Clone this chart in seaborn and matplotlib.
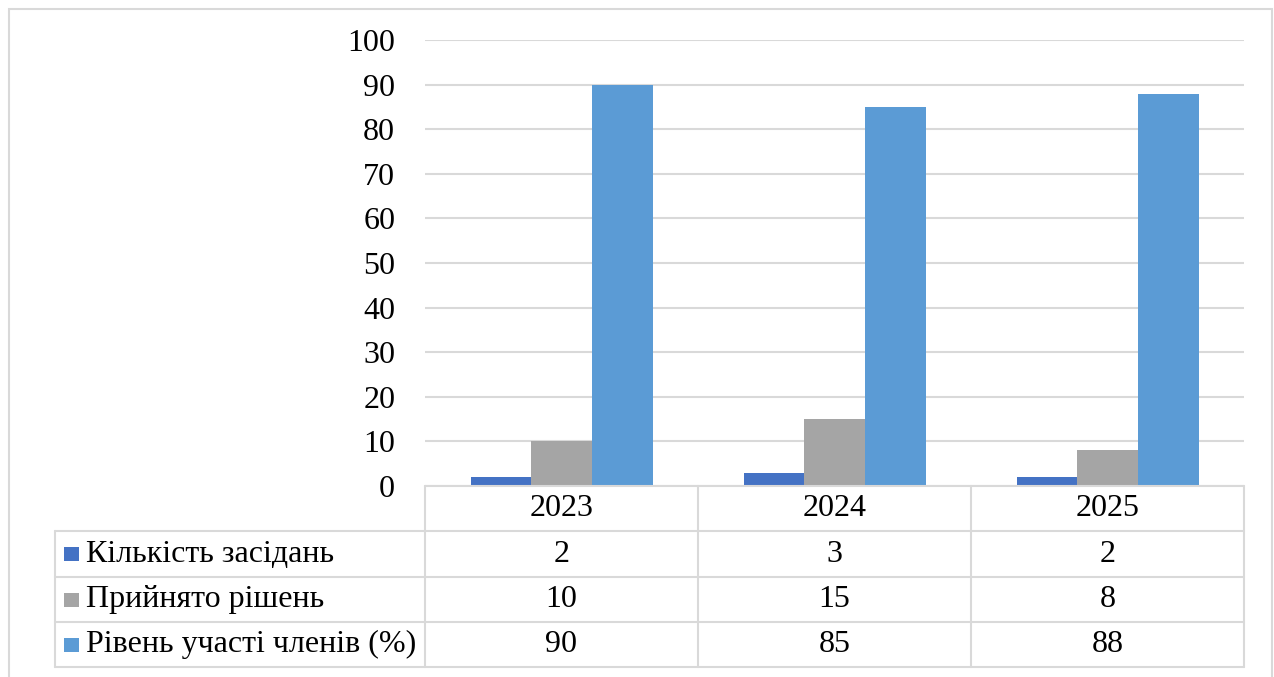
import matplotlib
matplotlib.use("Agg")
import matplotlib.pyplot as plt
import seaborn as sns
import pandas as pd
from matplotlib.lines import Line2D
from matplotlib.patches import Rectangle

years = ["2023", "2024", "2025"]
series_names = ["Кількість засідань", "Прийнято рішень", "Рівень участі членів (%)"]
meetings = [2, 3, 2]
decisions = [10, 15, 8]
participation = [90, 85, 88]
colors = ["#4472C4", "#A5A5A5", "#5B9BD5"]
yticks = [0, 10, 20, 30, 40, 50, 60, 70, 80, 90, 100]

series_values = [meetings, decisions, participation]
rows = []
for name, vals in zip(series_names, series_values):
    for y, v in zip(years, vals):
        rows.append({"year": y, "series": name, "value": v})
df = pd.DataFrame(rows)

sns.set_theme(style="white")
plt.rcParams["font.family"] = ["Liberation Serif", "DejaVu Serif"]
plt.rcParams["text.color"] = "black"

W, H = 1274, 677
fig = plt.figure(figsize=(W / 100, H / 100), dpi=100)

def fx(px):
    return px / W

def fy(py):
    return 1 - py / H

grid_c = "#D9D9D9"
FS = 23

# outer chart border
fig.patches.append(Rectangle((fx(9), fy(690)), fx(1272) - fx(9), fy(9) - fy(690),
                             transform=fig.transFigure, fill=False, edgecolor=grid_c, lw=1.5))

ax_l, ax_r, ax_t, ax_b = 425, 1244, 40, 486
ax = fig.add_axes([fx(ax_l), fy(ax_b), fx(ax_r) - fx(ax_l), fy(ax_t) - fy(ax_b)])
sns.barplot(data=df, x="year", y="value", hue="series", hue_order=series_names,
            palette=colors, saturation=1, width=2 / 3, gap=0, linewidth=0, ax=ax, legend=False)
ax.set_xlim(-0.5, 2.5)
ax.set_ylim(0, 100)
ax.set_yticks(yticks)
ax.set_yticklabels([str(t) for t in yticks], fontsize=FS, color="black")
ax.tick_params(axis="y", length=0, pad=21.5)
ax.set_xticks([])
ax.set_xlabel("")
ax.set_ylabel("")
ax.yaxis.grid(True, color=grid_c, lw=1.5)
ax.set_axisbelow(True)
for s in ax.spines.values():
    s.set_visible(False)

# data table
col_x = [ax_l, 698, 971, ax_r]
row_y = [486, 531, 577, 622, 667]
left_x = 55
lw = 1.5
def hline(y, x0, x1):
    fig.lines.append(Line2D([fx(x0), fx(x1)], [fy(y), fy(y)], transform=fig.transFigure,
                            color=grid_c, lw=lw))
def vline(x, y0, y1):
    fig.lines.append(Line2D([fx(x), fx(x)], [fy(y0), fy(y1)], transform=fig.transFigure,
                            color=grid_c, lw=lw))

hline(row_y[0], col_x[0], col_x[-1])
for y in row_y[1:]:
    hline(y, left_x, col_x[-1])
vline(left_x, row_y[1], row_y[-1])
for x in col_x:
    vline(x, row_y[0], row_y[-1])

for i, yr in enumerate(years):
    cx = (col_x[i] + col_x[i + 1]) / 2
    cy = (row_y[0] + row_y[1]) / 2
    fig.text(fx(cx), fy(cy), yr, ha="center", va="center", fontsize=FS, color="black")

for r, (name, vals, c) in enumerate(zip(series_names, series_values, colors)):
    cy = (row_y[r + 1] + row_y[r + 2]) / 2
    fig.patches.append(Rectangle((fx(64), fy(cy + 7)), fx(15), fy(cy - 7) - fy(cy + 7),
                                 transform=fig.transFigure, facecolor=c, edgecolor="none"))
    fig.text(fx(86), fy(cy), name, ha="left", va="center", fontsize=FS, color="black")
    for i, v in enumerate(vals):
        cx = (col_x[i] + col_x[i + 1]) / 2
        fig.text(fx(cx), fy(cy), str(v), ha="center", va="center", fontsize=FS, color="black")

fig.savefig("out.png", dpi=100)
